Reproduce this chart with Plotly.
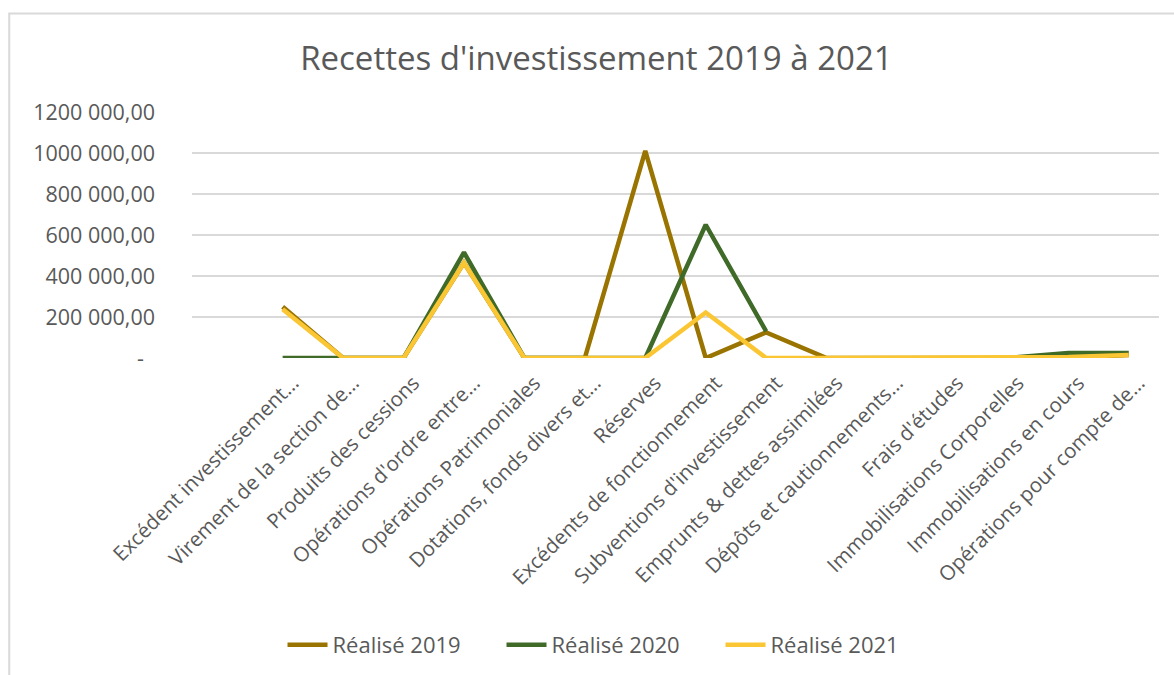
import plotly.graph_objects as go

# Investment revenue lines by budget heading, 2019-2021
categories = [
    "Excédent investissement…",
    "Virement de la section de…",
    "Produits des cessions",
    "Opérations d'ordre entre…",
    "Opérations Patrimoniales",
    "Dotations, fonds divers et…",
    "Réserves",
    "Excédents de fonctionnement",
    "Subventions d'investissement",
    "Emprunts & dettes assimilées",
    "Dépôts et cautionnements…",
    "Frais d'études",
    "Immobilisations Corporelles",
    "Immobilisations en cours",
    "Opérations pour compte de…",
]

realise_2019 = [250000, 0, 0, 465000, 0, 0, 1010000, 0, 125000, 0, 0, 0, 0, 0, 15000]
realise_2020 = [0, 0, 0, 515000, 0, 0, 0, 650000, 130000, None, None, None, 0, 25000, 25000]
realise_2021 = [238000, 0, 0, 465000, 0, 0, 0, 222000, 0, 0, 0, 0, 0, 5000, 15000]

series_names = ["Réalisé 2019", "Réalisé 2020", "Réalisé 2021"]
series_colors = ["#9A7400", "#3F6A27", "#FBC633"]

y_tickvals = [0, 200000, 400000, 600000, 800000, 1000000, 1200000]
y_ticktext = ["-  ", "200 000,00", "400 000,00", "600 000,00",
              "800 000,00", "1000 000,00", "1200 000,00"]

FONT = "Open Sans"
GREY = "#595959"

fig = go.Figure()
for name, values, color in zip(series_names,
                               [realise_2019, realise_2020, realise_2021],
                               series_colors):
    fig.add_trace(go.Scatter(
        x=categories, y=values, name=name, mode="lines",
        line=dict(color=color, width=4.5, shape="linear"),
        connectgaps=False,
    ))

fig.update_layout(
    width=1174, height=675,
    margin=dict(l=192, r=15, t=112, b=316),
    paper_bgcolor="white", plot_bgcolor="white",
    font=dict(family=FONT, color=GREY, size=21),
    title=dict(text="Recettes d'investissement 2019 à 2021",
               x=0.508, xanchor="center", y=0.914, yanchor="middle",
               xref="container", yref="container",
               font=dict(family=FONT, size=33, color=GREY)),
    showlegend=True,
    legend=dict(orientation="h", x=0.0936, xanchor="left",
                y=-1.158, yanchor="middle",
                font=dict(family=FONT, size=22, color=GREY),
                itemwidth=40, entrywidth=164, entrywidthmode="pixels",
                bgcolor="rgba(0,0,0,0)"),
    shapes=[dict(type="rect", xref="paper", yref="paper",
                 x0=-0.189, x1=1.05, y0=-1.4, y1=1.4,
                 line=dict(color="#D9D9D9", width=2),
                 fillcolor="rgba(0,0,0,0)", layer="below")],
)

fig.update_xaxes(
    type="category", range=[-1.5, 14.5],
    tickangle=-45, showgrid=False, showline=False, zeroline=False,
    ticks="", ticklabelshift=10, ticklabelstandoff=8,
    tickfont=dict(family=FONT, size=20.5, color=GREY),
)
fig.update_yaxes(
    range=[0, 1200000], tickvals=y_tickvals, ticktext=y_ticktext,
    showgrid=True, gridcolor="#D9D9D9", gridwidth=1.5,
    zeroline=False, showline=False, ticks="",
    ticklabelstandoff=36,
    tickfont=dict(family=FONT, size=21.5, color=GREY),
)

fig.write_html("out.html")
